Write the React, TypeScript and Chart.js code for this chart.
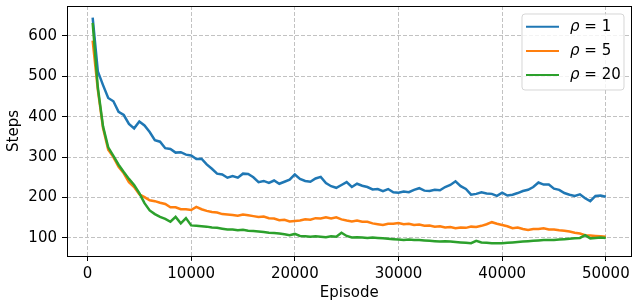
import { useEffect, useRef } from "react";
import { Chart, registerables } from "chart.js";

Chart.register(...registerables);

const FONT = "DejaVu Sans";
const FONT_SIZE = 15;

const episodeStart = 500;
const episodeStep = 500;

const xTicks = [0, 10000, 20000, 30000, 40000, 50000];
const yTicks = [100, 200, 300, 400, 500, 600];

const seriesLabels = ["ρ = 1", "ρ = 5", "ρ = 20"];
const seriesColors = ["#1f77b4", "#ff7f0e", "#2ca02c"];

const rho1 = [
  645, 512, 478, 446, 438, 412, 404, 382, 371, 388,
  378, 362, 342, 338, 322, 320, 311, 312, 306, 304,
  295, 296, 282, 271, 259, 257, 249, 253, 249, 259,
  258, 250, 238, 241, 236, 242, 234, 239, 244, 257,
  246, 241, 239, 247, 251, 236, 228, 224, 231, 238,
  226, 234, 229, 226, 220, 221, 216, 221, 213, 212,
  215, 213, 219, 223, 217, 216, 219, 218, 226, 231,
  240, 228, 221, 207, 209, 213, 210, 209, 204, 212,
  205, 207, 211, 216, 219, 226, 237, 232, 232, 222,
  219, 211, 207, 204, 208, 198, 191, 204, 205, 202,
];

const rho5 = [
  588, 466, 372, 318, 300, 276, 260, 238, 226, 208,
  201, 193, 191, 187, 184, 176, 176, 171, 171, 169,
  177, 171, 167, 164, 163, 159, 158, 157, 155, 158,
  156, 154, 152, 153, 149, 148, 144, 145, 141, 142,
  143, 146, 145, 149, 148, 151, 148, 151, 146, 143,
  141, 143, 140, 140, 136, 134, 132, 135, 135, 137,
  134, 135, 132, 133, 130, 131, 128, 129, 126, 127,
  124, 126, 125, 128, 127, 130, 134, 139, 135, 132,
  129, 124, 126, 122, 120, 122, 122, 124, 121, 121,
  119, 118, 116, 113, 111, 107, 106, 105, 104, 103,
];

const rho20 = [
  632, 472, 376, 324, 303, 281, 263, 246, 231, 211,
  186, 168, 159, 152, 147, 140, 152, 136, 149, 131,
  130, 129, 128, 126, 125, 123, 121, 121, 119, 120,
  118, 117, 116, 115, 113, 112, 111, 109, 107, 110,
  105, 104, 103, 104, 103, 102, 104, 103, 113, 105,
  101, 102, 101, 100, 101, 100, 99, 98, 97, 96,
  95, 96, 95, 95, 94, 93, 92, 91, 92, 91,
  90, 89, 88, 87, 93, 89, 88, 87, 87, 87,
  88, 89, 90, 91, 92, 93, 94, 95, 95, 95,
  96, 97, 98, 99, 100, 107, 99, 100, 101, 100,
];

const seriesValues = [rho1, rho5, rho20];

const toPoints = (vals: number[]) =>
  vals.map((v, i) => ({ x: episodeStart + i * episodeStep, y: v }));

const overlay = {
  id: "overlay",
  afterDatasetsDraw(chart: any) {
    const { ctx, chartArea: a } = chart;
    ctx.save();
    // axes box
    ctx.strokeStyle = "#000";
    ctx.lineWidth = 1;
    ctx.strokeRect(Math.round(a.left) + 0.5, Math.round(a.top) + 0.5, Math.round(a.right) - Math.round(a.left) - 1, Math.round(a.bottom) - Math.round(a.top));

    // legend
    const lx = 522, ly = 14, lw = 102, lh = 76, r = 3;
    ctx.beginPath();
    ctx.moveTo(lx + r, ly);
    ctx.lineTo(lx + lw - r, ly);
    ctx.quadraticCurveTo(lx + lw, ly, lx + lw, ly + r);
    ctx.lineTo(lx + lw, ly + lh - r);
    ctx.quadraticCurveTo(lx + lw, ly + lh, lx + lw - r, ly + lh);
    ctx.lineTo(lx + r, ly + lh);
    ctx.quadraticCurveTo(lx, ly + lh, lx, ly + lh - r);
    ctx.lineTo(lx, ly + r);
    ctx.quadraticCurveTo(lx, ly, lx + r, ly);
    ctx.closePath();
    ctx.fillStyle = "rgba(255,255,255,0.8)";
    ctx.fill();
    ctx.strokeStyle = "rgba(204,204,204,0.8)";
    ctx.lineWidth = 1;
    ctx.stroke();

    seriesLabels.forEach((label, i) => {
      const y = 26.7 + i * 24.2;
      ctx.strokeStyle = seriesColors[i];
      ctx.lineWidth = 2;
      ctx.beginPath();
      ctx.moveTo(526, y);
      ctx.lineTo(559, y);
      ctx.stroke();
      ctx.fillStyle = "#000";
      ctx.textBaseline = "middle";
      ctx.textAlign = "left";
      const sym = label.charAt(0);
      const rest = label.slice(1);
      ctx.font = `italic ${FONT_SIZE}px "${FONT}"`;
      ctx.fillText(sym, 570, y);
      const w = ctx.measureText(sym).width;
      ctx.font = `${FONT_SIZE}px "${FONT}"`;
      ctx.fillText(rest, 570 + w, y);
    });

    // axis titles
    ctx.fillStyle = "#000";
    ctx.font = `${FONT_SIZE}px "${FONT}"`;
    ctx.textAlign = "center";
    ctx.textBaseline = "alphabetic";
    ctx.fillText("Episode", (a.left + a.right) / 2, 297);
    ctx.save();
    ctx.translate(18, (a.top + a.bottom) / 2);
    ctx.rotate(-Math.PI / 2);
    ctx.fillText("Steps", 0, 0);
    ctx.restore();

    ctx.restore();
  },
};

const zeroPad = (s: any) => {
  s.paddingTop = 0;
  s.paddingBottom = 0;
  s.paddingLeft = 0;
  s.paddingRight = 0;
};

export default function App() {
  const ref = useRef<HTMLCanvasElement>(null);
  useEffect(() => {
    const chart = new Chart(ref.current as HTMLCanvasElement, {
      type: "line",
      data: {
        datasets: seriesValues.map((vals, i) => ({
          label: seriesLabels[i],
          data: toPoints(vals),
          borderColor: seriesColors[i],
          backgroundColor: seriesColors[i],
          borderWidth: 2.5,
          pointRadius: 0,
          tension: 0,
          fill: false,
          order: 3 - i,
        })),
      },
      options: {
        animation: false,
        responsive: false,
        devicePixelRatio: 1,
        layout: { padding: { top: 6, right: 0.5, left: 0, bottom: 0 } },
        plugins: { legend: { display: false }, tooltip: { enabled: false } },
        scales: {
          x: {
            type: "linear",
            min: -1975,
            max: 52475,
            afterBuildTicks: (s: any) => {
              s.ticks = xTicks.map((v) => ({ value: v }));
            },
            afterFit: (s: any) => {
              s.height = 49;
              zeroPad(s);
            },
            grid: { color: "#c2c2c2", lineWidth: 1, tickColor: "#000", tickLength: 5, tickWidth: 1 },
            border: { display: false, dash: [4, 2] },
            ticks: {
              color: "#000",
              font: { family: FONT, size: FONT_SIZE },
              padding: 4,
              maxRotation: 0,
              autoSkip: false,
              callback: (v: any) => String(v),
            },
          },
          y: {
            type: "linear",
            min: 55.4,
            max: 673.5,
            afterBuildTicks: (s: any) => {
              s.ticks = yTicks.map((v) => ({ value: v }));
            },
            afterFit: (s: any) => {
              s.width = 67;
              zeroPad(s);
            },
            grid: { color: "#c2c2c2", lineWidth: 1, tickColor: "#000", tickLength: 5, tickWidth: 1 },
            border: { display: false, dash: [4, 2] },
            ticks: {
              color: "#000",
              font: { family: FONT, size: FONT_SIZE },
              padding: 5,
              autoSkip: false,
              callback: (v: any) => String(v),
            },
          },
        },
      },
      plugins: [overlay],
    });
    return () => chart.destroy();
  }, []);
  return (
    <div style={{ position: "absolute", left: 0, top: 0, width: 632, height: 305, background: "#fff" }}>
      <canvas ref={ref} width={632} height={305} style={{ display: "block" }} />
    </div>
  );
}
